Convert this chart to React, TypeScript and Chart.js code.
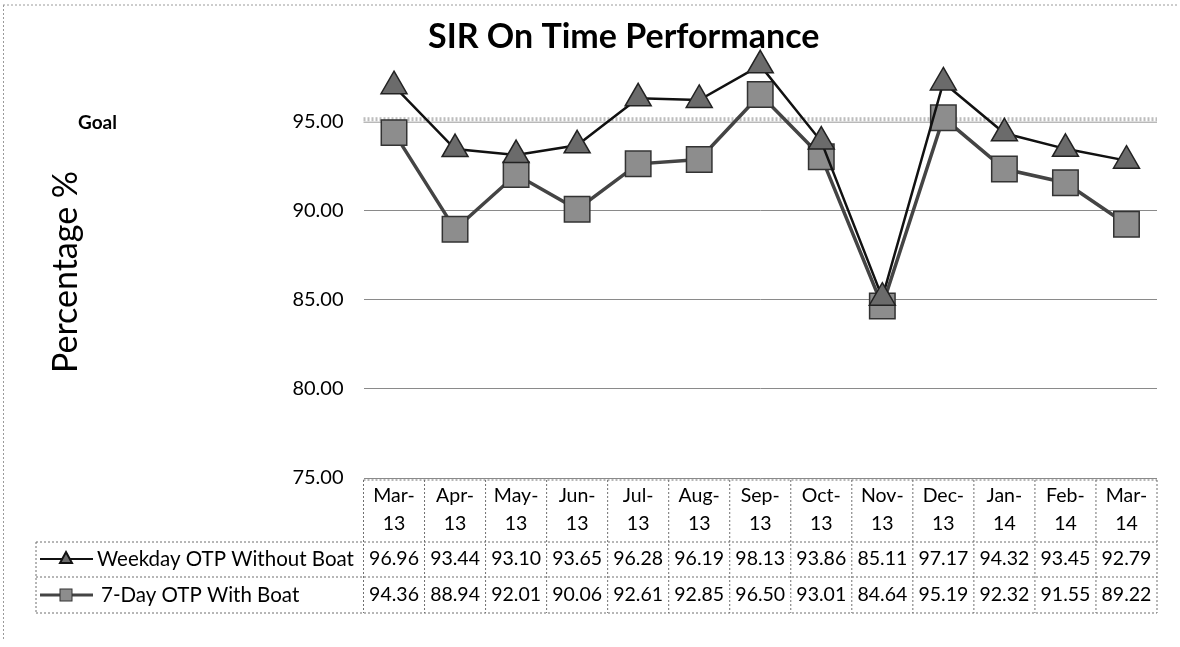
import React, { useEffect, useRef } from 'react';
import { Chart, registerables } from 'chart.js';

Chart.register(...registerables);

const categories = ['Mar-13', 'Apr-13', 'May-13', 'Jun-13', 'Jul-13', 'Aug-13', 'Sep-13', 'Oct-13', 'Nov-13', 'Dec-13', 'Jan-14', 'Feb-14', 'Mar-14'];
const weekdayOTP = [96.96, 93.44, 93.10, 93.65, 96.28, 96.19, 98.13, 93.86, 85.11, 97.17, 94.32, 93.45, 92.79];
const sevenDayOTP = [94.36, 88.94, 92.01, 90.06, 92.61, 92.85, 96.50, 93.01, 84.64, 95.19, 92.32, 91.55, 89.22];
const seriesNames = ['Weekday OTP Without Boat', '7-Day OTP With Boat'];
const yTickValues = [75, 80, 85, 90, 95];
const GOAL = 95;
const TITLE = 'SIR On Time Performance';
const Y_TITLE = 'Percentage %';
const GOAL_LABEL = 'Goal';

const FONT = 'Lato, "Open Sans", sans-serif';

const tablePlugin = {
  id: 'sirTable',
  beforeDatasetsDraw(chart: any) {
    const { ctx, chartArea } = chart;
    const y = chart.scales.y.getPixelForValue(GOAL);
    ctx.save();
    ctx.strokeStyle = '#bdbdbd';
    ctx.lineWidth = 4;
    ctx.setLineDash([2, 2]);
    ctx.beginPath();
    ctx.moveTo(chartArea.left, y - 2);
    ctx.lineTo(chartArea.right, y - 2);
    ctx.stroke();
    ctx.setLineDash([]);
    ctx.strokeStyle = '#9a9a9a';
    ctx.lineWidth = 1;
    ctx.beginPath();
    ctx.moveTo(chartArea.left, y + 1);
    ctx.lineTo(chartArea.right, y + 1);
    ctx.stroke();
    ctx.restore();
  },
  afterDraw(chart: any) {
    const { ctx, chartArea } = chart;
    const xs = chart.scales.x;
    const ys = chart.scales.y;
    const half = (xs.getPixelForValue(1) - xs.getPixelForValue(0)) / 2;
    const colLeft = xs.getPixelForValue(0) - half;
    const colRight = xs.getPixelForValue(categories.length - 1) + half;
    const top = chartArea.bottom + 2;
    const headBottom = top + 62;
    const row1Bottom = headBottom + 35;
    const row2Bottom = row1Bottom + 36;
    const tableLeft = 36;

    ctx.save();
    // frame bits
    ctx.strokeStyle = '#9a9a9a';
    ctx.lineWidth = 1;
    ctx.setLineDash([2, 2]);
    ctx.beginPath();
    ctx.moveTo(3, 5); ctx.lineTo(1177, 5);
    ctx.moveTo(3.5, 5); ctx.lineTo(3.5, 640);
    ctx.stroke();

    // table borders
    ctx.strokeStyle = '#6f6f6f';
    ctx.beginPath();
    ctx.moveTo(colLeft, top); ctx.lineTo(colRight, top);
    ctx.moveTo(tableLeft, headBottom); ctx.lineTo(colRight, headBottom);
    ctx.moveTo(tableLeft, row1Bottom); ctx.lineTo(colRight, row1Bottom);
    ctx.moveTo(tableLeft, row2Bottom); ctx.lineTo(colRight, row2Bottom);
    ctx.moveTo(tableLeft, headBottom); ctx.lineTo(tableLeft, row2Bottom);
    for (let i = 0; i <= categories.length; i++) {
      const x = colLeft + i * half * 2;
      ctx.moveTo(x, top); ctx.lineTo(x, row2Bottom);
    }
    ctx.stroke();
    ctx.setLineDash([]);

    // header + values
    ctx.fillStyle = '#000';
    ctx.textAlign = 'center';
    ctx.textBaseline = 'middle';
    ctx.font = `19.5px ${FONT}`;
    categories.forEach((c, i) => {
      const x = xs.getPixelForValue(i);
      const [m, yr] = c.split('-');
      ctx.fillText(m + '-', x, top + 16);
      ctx.fillText(yr, x, top + 44);
      ctx.fillText(weekdayOTP[i].toFixed(2), x, headBottom + 17);
      ctx.fillText(sevenDayOTP[i].toFixed(2), x, row1Bottom + 18);
    });

    // legend keys
    const r1 = headBottom + 17;
    const r2 = row1Bottom + 18;
    ctx.strokeStyle = '#111';
    ctx.lineWidth = 2;
    ctx.beginPath();
    ctx.moveTo(40, r1); ctx.lineTo(93, r1);
    ctx.stroke();
    ctx.fillStyle = '#6b6b6b';
    ctx.beginPath();
    ctx.moveTo(66, r1 - 7); ctx.lineTo(72, r1 + 4); ctx.lineTo(60, r1 + 4); ctx.closePath();
    ctx.fill(); ctx.stroke();
    ctx.strokeStyle = '#444';
    ctx.lineWidth = 3;
    ctx.beginPath();
    ctx.moveTo(40, r2); ctx.lineTo(93, r2);
    ctx.stroke();
    ctx.fillStyle = '#8d8d8d';
    ctx.lineWidth = 1;
    ctx.strokeStyle = '#333';
    ctx.fillRect(60, r2 - 6, 12, 12);
    ctx.strokeRect(60, r2 - 6, 12, 12);

    ctx.fillStyle = '#000';
    ctx.textAlign = 'left';
    ctx.font = `20.5px ${FONT}`;
    ctx.fillText(seriesNames[0], 97, r1);
    ctx.fillText(seriesNames[1], 101, r2);

    // title
    ctx.textAlign = 'left';
    ctx.textBaseline = 'alphabetic';
    ctx.font = `bold 34px ${FONT}`;
    ctx.fillText(TITLE, 428, 48);

    // goal label
    ctx.textBaseline = 'middle';
    ctx.font = `bold 19px ${FONT}`;
    ctx.fillText(GOAL_LABEL, 78, ys.getPixelForValue(GOAL) + 2);

    // y title
    ctx.translate(66, 272);
    ctx.rotate(-Math.PI / 2);
    ctx.textAlign = 'center';
    ctx.font = `34px ${FONT}`;
    ctx.fillText(Y_TITLE, 0, 0);
    ctx.restore();
  },
};

export default function App() {
  const ref = useRef<HTMLCanvasElement | null>(null);
  useEffect(() => {
    if (!ref.current) return;
    const chart = new Chart(ref.current, {
      type: 'line',
      data: {
        labels: categories,
        datasets: [
          {
            label: seriesNames[0],
            data: weekdayOTP,
            borderColor: '#111',
            borderWidth: 2.5,
            pointStyle: 'triangle',
            pointRadius: 15,
            pointBackgroundColor: '#6b6b6b',
            pointBorderColor: '#222',
            pointBorderWidth: 1.5,
            tension: 0,
          },
          {
            label: seriesNames[1],
            data: sevenDayOTP,
            borderColor: '#444',
            borderWidth: 3.5,
            pointStyle: 'rect',
            pointRadius: 18,
            pointBackgroundColor: '#8d8d8d',
            pointBorderColor: '#333',
            pointBorderWidth: 1.5,
            tension: 0,
          },
        ],
      },
      options: {
        responsive: false,
        animation: false,
        clip: false as any,
        layout: { padding: { top: 15, right: 23, bottom: 169, left: 0 } },
        plugins: { legend: { display: false }, tooltip: { enabled: false }, title: { display: false } },
        scales: {
          x: { type: 'category', display: false, offset: true },
          y: {
            min: 75,
            max: 100,
            afterFit: (s: any) => { s.width = 363.5; },
            afterBuildTicks: (s: any) => { s.ticks = [...yTickValues, 100].map((v) => ({ value: v })); },
            ticks: {
              padding: 20,
              color: '#000',
              font: { family: FONT, size: 20 },
              callback: (v: any) => (yTickValues.includes(Number(v)) ? Number(v).toFixed(2) : ''),
            },
            grid: {
              drawTicks: false,
              color: (c: any) => (c.tick && (c.tick.value === GOAL || c.tick.value === 100) ? 'rgba(0,0,0,0)' : '#8a8a8a'),
            },
            border: { display: false },
          },
        },
      },
      plugins: [tablePlugin],
    });
    return () => chart.destroy();
  }, []);
  return (
    <div style={{ position: 'absolute', left: 0, top: 0, width: 1180, height: 647, background: '#fff' }}>
      <canvas ref={ref} width={1180} height={647} style={{ display: 'block' }} />
    </div>
  );
}
